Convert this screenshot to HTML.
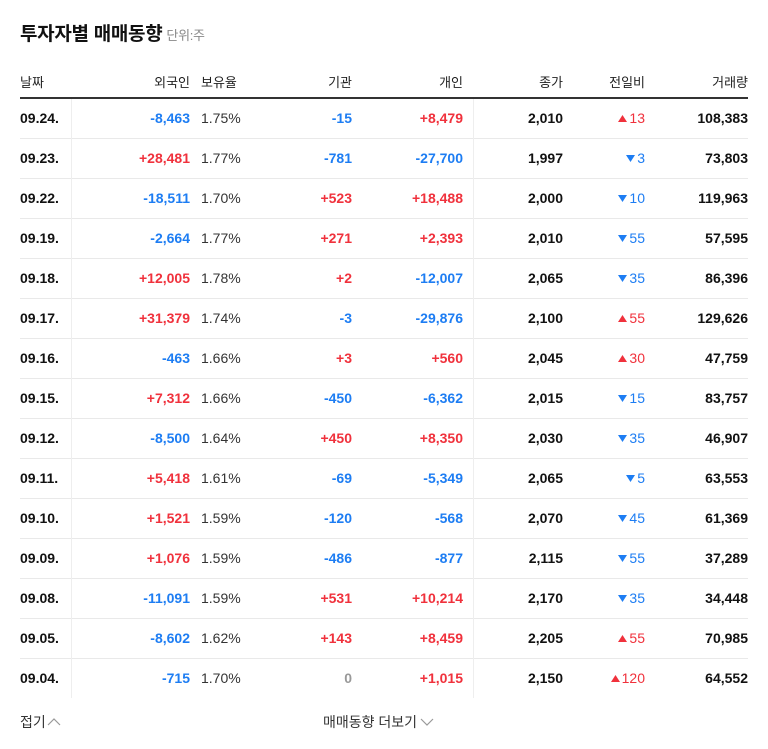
<!DOCTYPE html>
<html><head><meta charset="utf-8">
<style>
*{margin:0;padding:0;box-sizing:border-box}
body{width:768px;height:749px;background:#fff;font-family:"Liberation Sans","Noto Sans CJK KR",sans-serif;position:relative;overflow:hidden;color:#111}
.title{position:absolute;left:20px;top:19px;font-size:19px;font-weight:bold;color:#111;letter-spacing:-0.3px}
.unit{font-size:13px;font-weight:normal;color:#888;margin-left:4px}
.hdr{position:absolute;top:72px;font-size:13px;color:#222}
.thick{position:absolute;left:20px;top:97px;width:728px;height:2px;background:#333}
.row{position:absolute;left:20px;width:728px;height:40px;border-bottom:1px solid #e9e9e9}
.row:last-child{border-bottom:none}
.c{position:absolute;top:11px;font-size:14px;white-space:nowrap}
.b{font-weight:bold}
.r{color:#f0313c}.bl{color:#1d7df3}.g{color:#999}
.vsep{position:absolute;top:99px;width:1px;height:599px;background:#eee}
.foot{position:absolute;top:712px;font-size:14px;color:#333}
</style></head><body>
<div class="title">투자자별 매매동향<span class="unit">단위:주</span></div>
<div class="hdr" style="left:20px">날짜</div>
<div class="hdr" style="right:578px">외국인</div>
<div class="hdr" style="left:201px">보유율</div>
<div class="hdr" style="right:416px">기관</div>
<div class="hdr" style="right:305px">개인</div>
<div class="hdr" style="right:205px">종가</div>
<div class="hdr" style="right:123px">전일비</div>
<div class="hdr" style="right:20px">거래량</div>
<div class="thick"></div>
<div id="rows"></div>
<div class="vsep" style="left:71px"></div>
<div class="vsep" style="left:473px"></div>
<div class="foot" style="left:20px">접기<svg width="14" height="10" viewBox="0 0 14 10" style="margin-left:1px"><polyline points="1,8 7,2 13,8" fill="none" stroke="#999" stroke-width="1.2"/></svg></div>
<div class="foot" style="left:323px">매매동향 더보기<svg width="16" height="10" viewBox="0 0 16 10" style="margin-left:2px"><polyline points="2,2 8,8 14,2" fill="none" stroke="#999" stroke-width="1.2"/></svg></div>
<script>
const dates=["09.24.","09.23.","09.22.","09.19.","09.18.","09.17.","09.16.","09.15.","09.12.","09.11.","09.10.","09.09.","09.08.","09.05.","09.04."];
const foreign=[-8463,28481,-18511,-2664,12005,31379,-463,7312,-8500,5418,1521,1076,-11091,-8602,-715];
const holding=[1.75,1.77,1.70,1.77,1.78,1.74,1.66,1.66,1.64,1.61,1.59,1.59,1.59,1.62,1.70];
const inst=[-15,-781,523,271,2,-3,3,-450,450,-69,-120,-486,531,143,0];
const indiv=[8479,-27700,18488,2393,-12007,-29876,560,-6362,8350,-5349,-568,-877,10214,8459,1015];
const closes=[2010,1997,2000,2010,2065,2100,2045,2015,2030,2065,2070,2115,2170,2205,2150];
const change=[13,-3,-10,-55,-35,55,30,-15,-35,-5,-45,-55,-35,55,120];
const volume=[108383,73803,119963,57595,86396,129626,47759,83757,46907,63553,61369,37289,34448,70985,64552];
const fmt=n=>Math.abs(n).toLocaleString('en-US');
const sgn=n=>n>0?'+'+fmt(n):n<0?'-'+fmt(n):'0';
const cls=n=>n>0?'r':n<0?'bl':'g';
const host=document.getElementById('rows');
dates.forEach((d,i)=>{
  const row=document.createElement('div');
  row.className='row';
  row.style.top=(99+i*40)+'px';
  
  
  const ch=change[i];
  const tri=ch>0?'<svg width="9" height="7" viewBox="0 0 9 7" style="margin-right:2px;vertical-align:1px"><polygon points="4.5,0 9,7 0,7" fill="#f0313c"/></svg>':'<svg width="9" height="7" viewBox="0 0 9 7" style="margin-right:2px;vertical-align:1px"><polygon points="0,0 9,0 4.5,7" fill="#1d7df3"/></svg>';
  row.innerHTML=
   '<span class="c b" style="left:0">'+d+'</span>'+
   '<span class="c b '+cls(foreign[i])+'" style="right:558px">'+sgn(foreign[i])+'</span>'+
   '<span class="c" style="left:181px;color:#333">'+holding[i].toFixed(2)+'%</span>'+
   '<span class="c b '+cls(inst[i])+'" style="right:396px">'+sgn(inst[i])+'</span>'+
   '<span class="c b '+cls(indiv[i])+'" style="right:285px">'+sgn(indiv[i])+'</span>'+
   '<span class="c b" style="right:185px">'+closes[i].toLocaleString('en-US')+'</span>'+
   '<span class="c '+(ch>0?'r':'bl')+'" style="right:103px">'+tri+Math.abs(ch)+'</span>'+
   '<span class="c b" style="right:0">'+volume[i].toLocaleString('en-US')+'</span>';
  host.appendChild(row);
});
</script>
</body></html>
